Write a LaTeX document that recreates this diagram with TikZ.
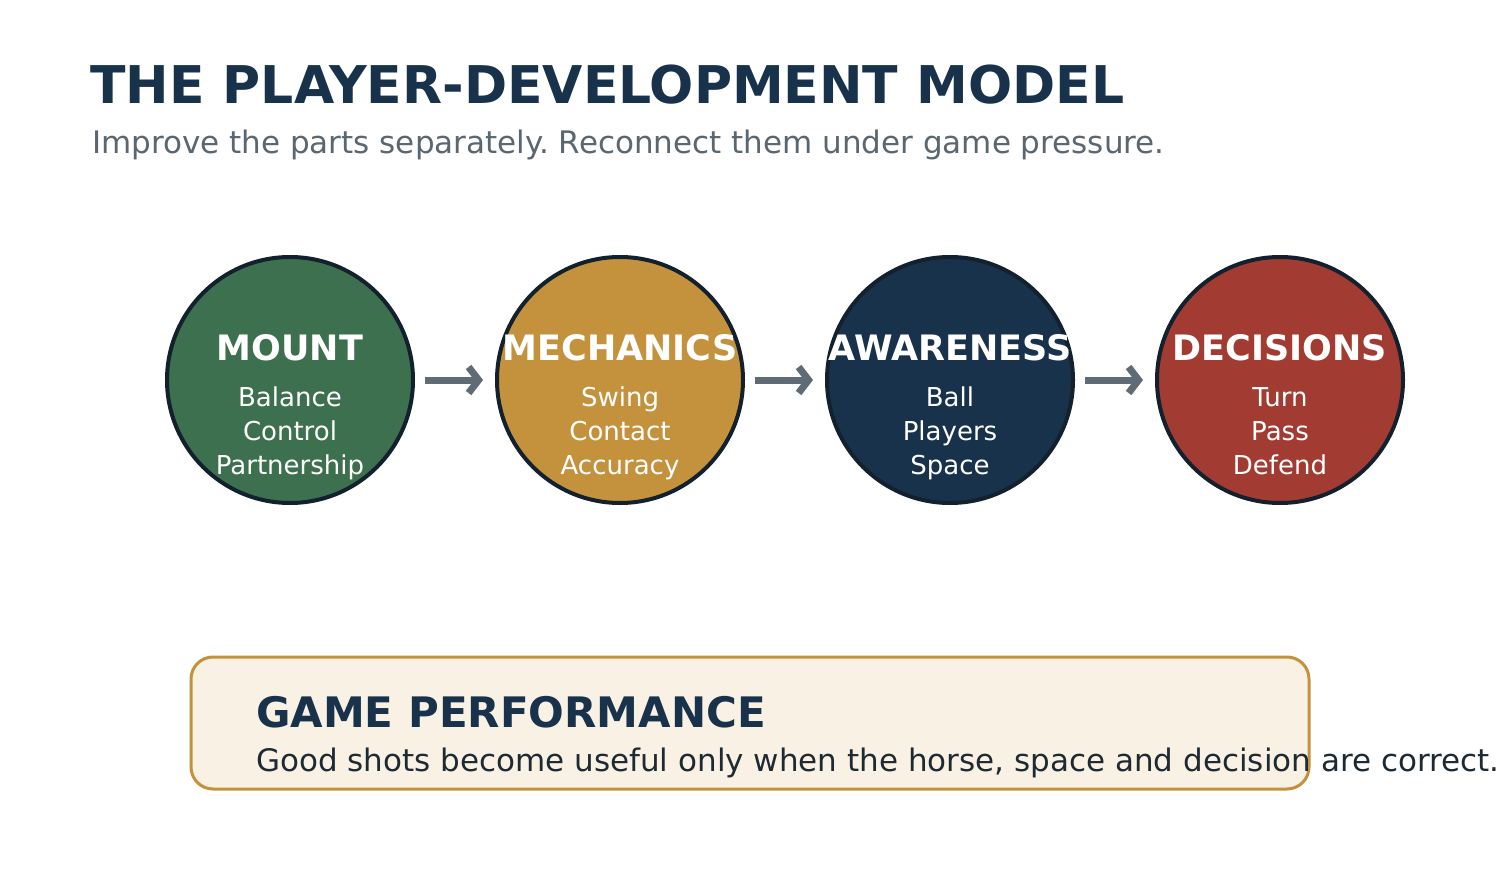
\documentclass[tikz,border=0pt]{standalone}
\usepackage{fontspec}
\setmainfont{DejaVu Sans}
\frenchspacing
\usetikzlibrary{arrows.meta}
\definecolor{navy}{HTML}{17324A}
\definecolor{ring}{HTML}{13212E}
\definecolor{mgreen}{HTML}{3D704E}
\definecolor{mgold}{HTML}{C4923C}
\definecolor{mred}{HTML}{A23C33}
\definecolor{subgray}{HTML}{5A6670}
\definecolor{arrgray}{HTML}{5F6B75}
\definecolor{cream}{HTML}{F9F1E4}
\definecolor{bodytext}{HTML}{1E2A33}
\tikzset{
  stage/.style={circle, draw=ring, line width=4pt, minimum size=246pt, inner sep=0pt},
  stagetitle/.style={text=white, font=\fontsize{35}{40}\selectfont\bfseries, anchor=base},
  stageline/.style={text=white, font=\fontsize{26}{30}\selectfont, anchor=base},
  flow/.style={draw=arrgray, line width=7pt, -{Straight Barb[length=10pt,width=26pt]}, shorten <=10pt, shorten >=12pt},
}
\begin{document}
\begin{tikzpicture}[x=1pt,y=-1pt]
\useasboundingbox[fill=white] (0,0) rectangle (1500,880);
\node[anchor=base west, text=navy, font=\fontsize{52}{60}\selectfont\bfseries, inner sep=0pt] (title) at (90,104) {THE PLAYER-DEVELOPMENT MODEL};
\node[anchor=base west, text=subgray, font=\fontsize{31}{36}\selectfont, inner sep=0pt] (subtitle) at (92,154) {Improve the parts separately. Reconnect them under game pressure.};

\node[stage, fill=mgreen] (c1) at (290,380) {};
\node[stage, fill=mgold] (c2) at (620,380) {};
\node[stage, fill=navy] (c3) at (950,380) {};
\node[stage, fill=mred] (c4) at (1280,380) {};

\foreach \n/\t/\a/\b/\c in {c1/MOUNT/Balance/Control/Partnership, c2/MECHANICS/Swing/Contact/Accuracy, c3/AWARENESS/Ball/Players/Space, c4/DECISIONS/Turn/Pass/Defend}{
  \node[stagetitle] (\n t) at ([yshift=20pt]\n.center) {\t};
  \node[stageline] (\n a) at ([yshift=-26pt]\n.center) {\a};
  \node[stageline] (\n b) at ([yshift=-60pt]\n.center) {\b};
  \node[stageline] (\n c) at ([yshift=-94pt]\n.center) {\c};
}

\draw[flow] (c1) -- (c2);
\draw[flow] (c2) -- (c3);
\draw[flow] (c3) -- (c4);

\node[draw=mgold, fill=cream, line width=3pt, rounded corners=22pt, minimum width=1118pt, minimum height=132pt, inner sep=0pt] (box) at (750,723) {};
\node[anchor=base west, text=navy, font=\fontsize{42}{48}\selectfont\bfseries, inner sep=0pt] (gp) at (256,727) {GAME PERFORMANCE};
\node[anchor=base west, text=bodytext, font=\fontsize{31}{36}\selectfont, inner sep=0pt] (gptext) at (256,771) {Good shots become useful only when the horse, space and decision are correct.};
\end{tikzpicture}
\end{document}
